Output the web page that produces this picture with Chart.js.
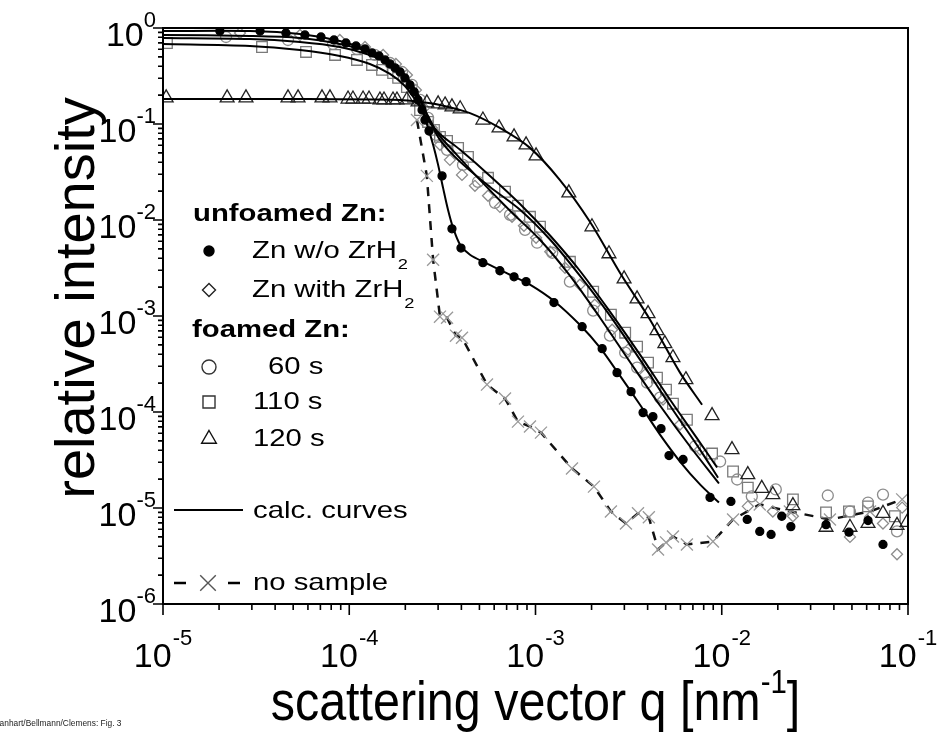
<!DOCTYPE html>
<html>
<head>
<meta charset="utf-8">
<title>relative intensity vs scattering vector q</title>
<script src="https://cdn.jsdelivr.net/npm/chart.js@4.4.1/dist/chart.umd.min.js"></script>
<style>
  html, body { margin: 0; padding: 0; background: #fff; }
  canvas { display: block; }
</style>
</head>
<body>
<canvas id="chart" width="941" height="733"></canvas>
<script>
// values: q in nm^-1, relative intensity

// unfoamed Zn w/o ZrH2 (filled circles)
const qWo = [2.02e-5, 3.32e-5, 4.57e-5, 5.78e-5, 7.05e-5, 8.28e-5, 9.6e-5, 1.087e-4, 1.215e-4, 1.325e-4,
  1.445e-4, 1.556e-4, 1.655e-4, 1.762e-4, 1.875e-4, 1.99e-4, 2.12e-4, 2.23e-4, 2.34e-4, 2.46e-4,
  2.55e-4, 2.68e-4, 3.15e-4, 3.56e-4, 3.98e-4, 5.22e-4, 6.44e-4, 7.67e-4, 8.9e-4, 1.256e-3,
  1.78e-3, 2.28e-3, 2.74e-3, 3.26e-3, 3.78e-3, 4.27e-3, 4.72e-3, 5.21e-3, 6.2e-3, 8.65e-3,
  1.12e-2, 1.37e-2, 1.6e-2, 1.84e-2, 2.1e-2, 2.35e-2, 3.63e-2, 4.82e-2, 6.1e-2, 7.34e-2];
const iWo = [0.93, 0.93, 0.887, 0.846, 0.806, 0.75, 0.698, 0.65, 0.604, 0.55,
  0.511, 0.465, 0.422, 0.384, 0.348, 0.302, 0.255, 0.216, 0.178, 0.14,
  0.11, 0.0848, 0.0288, 0.0081, 0.0051, 0.00359, 0.00296, 0.00256, 0.00228, 0.00138,
  7.74e-4, 4.57e-4, 2.57e-4, 1.63e-4, 9.86e-5, 8.95e-5, 6.71e-5, 3.52e-5, 3.2e-5, 1.29e-5,
  1.17e-5, 7.6e-6, 5.7e-6, 5.3e-6, 8.2e-6, 6.4e-6, 6.7e-6, 5.6e-6, 7.4e-6, 4.17e-6];

// unfoamed Zn with ZrH2 (open diamonds)
const qWith = [2.59e-5, 5.44e-5, 8.9e-5, 1.215e-4, 1.52e-4, 1.78e-4, 2.04e-4, 2.28e-4, 2.52e-4, 2.78e-4,
  3.07e-4, 3.47e-4, 4.03e-4, 4.73e-4, 5.56e-4, 6.44e-4, 7.48e-4, 8.67e-4, 1.007e-3, 1.2e-3,
  1.44e-3, 1.73e-3, 2.08e-3, 2.58e-3, 3.14e-3, 3.87e-3, 4.84e-3, 5.97e-3, 7.64e-3, 1.38e-2,
  1.88e-2, 2.41e-2, 4.88e-2, 7.34e-2, 8.73e-2, 9.3e-2];
const iWith = [0.887, 0.846, 0.75, 0.634, 0.524, 0.422, 0.324, 0.226, 0.147, 0.091,
  0.0607, 0.0423, 0.0295, 0.0227, 0.0179, 0.0137, 0.0108, 0.0087, 0.00653, 0.00467,
  0.00318, 0.00212, 0.00131, 7.2e-4, 4.46e-4, 2.45e-4, 1.35e-4, 7.4e-5, 4.06e-5, 1.04e-5,
  9.2e-6, 8.2e-6, 5.0e-6, 6.9e-6, 3.3e-6, 1.01e-5];

// foamed 60 s (open circles)
const q60 = [2.18e-5, 4.69e-5, 8.18e-5, 1.10e-4, 1.37e-4, 1.655e-4, 1.92e-4, 2.17e-4, 2.40e-4, 2.65e-4,
  2.92e-4, 3.35e-4, 4.08e-4, 4.91e-4, 6.06e-4, 7.30e-4, 8.79e-4, 1.02e-3, 1.23e-3, 1.53e-3,
  2.04e-3, 2.51e-3, 3.03e-3, 3.51e-3, 3.97e-3, 4.66e-3, 7.2e-3, 9.8e-3, 1.21e-2, 1.45e-2,
  1.95e-2, 3.71e-2, 4.88e-2, 6.1e-2, 7.34e-2, 8.73e-2];
const i60 = [0.806, 0.75, 0.682, 0.604, 0.524, 0.432, 0.348, 0.255, 0.178, 0.116,
  0.077, 0.0538, 0.0375, 0.025, 0.0151, 0.0113, 0.0079, 0.0058, 0.00456, 0.00228,
  0.00114, 6.24e-4, 4.15e-4, 2.9e-4, 2.02e-4, 1.41e-4, 4.4e-5, 3.05e-5, 1.98e-5, 1.32e-5,
  1.56e-5, 1.35e-5, 9.2e-6, 1.14e-5, 1.38e-5, 5.7e-6];

// foamed 110 s (open squares)
const q110 = [1.05e-5, 3.40e-5, 5.86e-5, 8.39e-5, 1.10e-4, 1.325e-4, 1.50e-4, 1.72e-4, 1.83e-4, 2.04e-4,
  2.20e-4, 2.40e-4, 2.65e-4, 2.85e-4, 3.07e-4, 3.35e-4, 3.84e-4, 4.34e-4, 5.56e-4, 6.86e-4,
  8.05e-4, 9.34e-4, 1.057e-3, 1.53e-3, 2.04e-3, 2.54e-3, 3.03e-3, 3.51e-3, 4.02e-3, 4.49e-3,
  5.02e-3, 5.47e-3, 6.5e-3, 8.87e-3, 1.15e-2, 1.38e-2, 2.41e-2, 3.63e-2, 4.82e-2, 6.1e-2, 8.5e-2];
const i110 = [0.698, 0.634, 0.563, 0.524, 0.465, 0.412, 0.366, 0.34, 0.302, 0.243,
  0.191, 0.14, 0.105, 0.0869, 0.0734, 0.0667, 0.0564, 0.0455, 0.0275, 0.0197,
  0.0141, 0.0108, 0.0085, 0.00367, 0.00179, 0.00103, 6.7e-4, 4.8e-4, 3.27e-4, 2.28e-4,
  1.71e-4, 1.22e-4, 8.3e-5, 3.69e-5, 2.4e-5, 1.63e-5, 1.23e-5, 9.0e-6, 9.2e-6, 1.04e-5, 8.2e-6];

// foamed 120 s (open triangles)
const q120 = [1.04e-5, 2.21e-5, 2.79e-5, 4.69e-5, 5.31e-5, 7.14e-5, 7.88e-5, 9.85e-5, 1.047e-4, 1.186e-4,
  1.277e-4, 1.462e-4, 1.537e-4, 1.718e-4, 1.804e-4, 2.04e-4, 2.34e-4, 2.61e-4, 3.0e-4, 3.27e-4,
  3.56e-4, 3.94e-4, 5.22e-4, 6.37e-4, 7.67e-4, 8.9e-4, 1.007e-3, 1.51e-3, 2.01e-3, 2.48e-3,
  2.99e-3, 3.51e-3, 4.02e-3, 4.49e-3, 4.95e-3, 5.47e-3, 6.42e-3, 8.87e-3, 1.135e-2, 1.38e-2,
  1.64e-2, 1.88e-2, 2.41e-2, 3.63e-2, 4.88e-2, 6.1e-2, 7.34e-2, 8.73e-2, 9.89e-2];
const i120 = [0.187, 0.187, 0.187, 0.187, 0.187, 0.187, 0.187, 0.182, 0.182, 0.182,
  0.182, 0.178, 0.178, 0.178, 0.178, 0.178, 0.17, 0.166, 0.162, 0.158,
  0.151, 0.144, 0.11, 0.091, 0.0734, 0.0607, 0.0466, 0.0192, 0.0085, 0.00445,
  0.00244, 0.00151, 0.00106, 7.03e-4, 5.15e-4, 3.68e-4, 2.17e-4, 9.18e-5, 4.06e-5, 2.23e-5,
  1.6e-5, 1.38e-5, 1.06e-5, 6.3e-6, 6.3e-6, 6.9e-6, 8.8e-6, 6.6e-6, 7.1e-6];

// no sample (crosses, dashed)
const qNo = [2.31e-4, 2.61e-4, 2.82e-4, 3.07e-4, 3.35e-4, 3.74e-4, 4.03e-4, 5.49e-4, 6.86e-4, 8.05e-4,
  9.34e-4, 1.07e-3, 1.57e-3, 2.06e-3, 2.54e-3, 3.06e-3, 3.55e-3, 4.06e-3, 4.55e-3, 5.02e-3,
  5.47e-3, 6.5e-3, 8.97e-3, 1.15e-2, 1.6e-2, 2.32e-2, 3.81e-2, 6.25e-2, 9.3e-2];
const iNo = [0.110, 0.0288, 0.00385, 9.84e-4, 9.6e-4, 6.24e-4, 5.94e-4, 1.93e-4, 1.38e-4, 7.94e-5,
  7.05e-5, 6.1e-5, 2.58e-5, 1.67e-5, 9.2e-6, 6.9e-6, 8.8e-6, 8.0e-6, 3.7e-6, 4.38e-6,
  5.05e-6, 4.17e-6, 4.48e-6, 7.6e-6, 1.09e-5, 9.2e-6, 7.6e-6, 9.2e-6, 1.23e-5];

// calc. curves
const qCalcWo = [1e-5, 2.93e-5, 5.44e-5, 8.9e-5, 1.29e-4, 1.655e-4, 1.99e-4, 2.25e-4, 2.46e-4, 2.65e-4,
  2.82e-4, 3.0e-4, 3.19e-4, 3.39e-4, 3.61e-4, 3.94e-4, 4.45e-4, 5.36e-4, 7.3e-4, 9.34e-4,
  1.27e-3, 1.73e-3, 2.22e-3, 2.84e-3, 3.64e-3, 4.66e-3, 5.97e-3, 7.64e-3, 9.66e-3];
const iCalcWo = [0.93, 0.93, 0.866, 0.732, 0.576, 0.432, 0.302, 0.201, 0.14, 0.091,
  0.0607, 0.0375, 0.0216, 0.0128, 0.0083, 0.00552, 0.00434, 0.00359, 0.00269, 0.00212,
  0.00141, 8.1e-4, 4.68e-4, 2.39e-4, 1.19e-4, 5.82e-5, 3.05e-5, 1.76e-5, 1.14e-5];
const qCalcWith = [1e-5, 2.93e-5, 5.44e-5, 8.9e-5, 1.29e-4, 1.655e-4, 1.99e-4, 2.34e-4, 2.65e-4, 3.07e-4,
  3.94e-4, 5.7e-4, 8.26e-4, 1.2e-3, 1.73e-3, 2.51e-3, 3.64e-3, 5.27e-3, 7.64e-3, 9.55e-3];
const iCalcWith = [0.846, 0.826, 0.787, 0.682, 0.563, 0.443, 0.324, 0.201, 0.116, 0.0684,
  0.0403, 0.0221, 0.0128, 0.00622, 0.00263, 0.00101, 3.51e-4, 1.17e-4, 4.06e-5, 2.07e-5];
const qCalc60 = [1e-5, 2.93e-5, 5.44e-5, 8.9e-5, 1.29e-4, 1.655e-4, 1.99e-4, 2.34e-4, 2.65e-4, 3.0e-4,
  3.7e-4, 5.03e-4, 7.3e-4, 1.057e-3, 1.53e-3, 2.22e-3, 3.21e-3, 4.66e-3, 6.76e-3, 9.66e-3];
const iCalc60 = [0.787, 0.769, 0.715, 0.634, 0.524, 0.422, 0.317, 0.196, 0.121, 0.0788,
  0.05, 0.0262, 0.0125, 0.00622, 0.00263, 9.6e-4, 3.34e-4, 1.17e-4, 4.37e-5, 1.8e-5];
const qCalc110 = [1e-5, 2.93e-5, 5.44e-5, 8.9e-5, 1.29e-4, 1.655e-4, 1.99e-4, 2.34e-4, 2.65e-4, 3.07e-4,
  3.94e-4, 5.7e-4, 8.26e-4, 1.2e-3, 1.73e-3, 2.51e-3, 3.64e-3, 5.27e-3, 7.64e-3, 9.44e-3];
const iCalc110 = [0.682, 0.65, 0.59, 0.511, 0.422, 0.332, 0.249, 0.162, 0.11, 0.0788,
  0.0538, 0.0288, 0.0147, 0.00685, 0.00296, 0.00111, 3.96e-4, 1.35e-4, 4.81e-5, 2.64e-5];
const qCalc120 = [1e-5, 5.44e-5, 1.875e-4, 2.40e-4, 3.07e-4, 4.45e-4, 6.44e-4, 9.34e-4, 1.35e-3, 1.96e-3,
  2.84e-3, 4.12e-3, 5.97e-3, 7.84e-3];
const iCalc120 = [0.182, 0.182, 0.178, 0.17, 0.158, 0.13, 0.091, 0.0564, 0.0262, 0.00958,
  0.00282, 9.16e-4, 2.57e-4, 1.19e-4];

// axis decades and minor tick multipliers
const decadesX = [-5, -4, -3, -2, -1];
const decadesY = [0, -1, -2, -3, -4, -5, -6];
const minorSteps = [2, 3, 4, 5, 6, 7, 8, 9];

const FONT = '"Liberation Sans", Arial, Helvetica, sans-serif';
const GREY = '#8c8c8c';

function pts(qs, is) {
  return qs.map((q, k) => ({ x: q, y: is[k] }));
}

function markers(label, qs, is, style, r, color, fill, order) {
  return {
    label: label,
    data: pts(qs, is),
    showLine: false,
    pointStyle: style,
    pointRadius: r,
    pointBorderWidth: 1.3,
    pointBorderColor: color,
    pointBackgroundColor: fill,
    order: order
  };
}

function curve(label, qs, is) {
  return {
    label: label,
    data: pts(qs, is),
    showLine: true,
    borderColor: '#000',
    borderWidth: 2,
    pointRadius: 0,
    tension: 0.3,
    order: 0
  };
}

// stretched text helper (the figure's lettering is wider/narrower than the stock font)
function sText(ctx, txt, x, y, font, sx, align) {
  ctx.save();
  ctx.font = font;
  ctx.textBaseline = 'alphabetic';
  ctx.textAlign = 'left';
  const w = ctx.measureText(txt).width * sx;
  let x0 = x;
  if (align === 'right') x0 = x - w;
  if (align === 'center') x0 = x - w / 2;
  ctx.translate(x0, y);
  ctx.scale(sx, 1);
  ctx.fillText(txt, 0, 0);
  ctx.restore();
  return w;
}

const decor = {
  id: 'decor',
  afterDraw(chart) {
    const ctx = chart.ctx;
    const xs = chart.scales.x, ys = chart.scales.y;
    const a = chart.chartArea;
    ctx.save();
    ctx.fillStyle = '#000';
    ctx.strokeStyle = '#000';

    // frame
    ctx.lineWidth = 2;
    ctx.strokeRect(a.left, a.top, a.right - a.left, a.bottom - a.top);

    // ticks (outward on bottom and left only)
    ctx.lineWidth = 1.6;
    ctx.beginPath();
    decadesX.forEach(d => {
      const base = Math.pow(10, d);
      const px = xs.getPixelForValue(base);
      ctx.moveTo(px, a.bottom); ctx.lineTo(px, a.bottom + 11);
      if (d < decadesX[decadesX.length - 1]) {
        minorSteps.forEach(m => {
          const mx = xs.getPixelForValue(m * base);
          ctx.moveTo(mx, a.bottom); ctx.lineTo(mx, a.bottom + 6);
        });
      }
    });
    decadesY.forEach(d => {
      const base = Math.pow(10, d);
      const py = ys.getPixelForValue(base);
      ctx.moveTo(a.left, py); ctx.lineTo(a.left - 10, py);
      if (d < 0) {
        minorSteps.forEach(m => {
          const my = ys.getPixelForValue(m * base);
          ctx.moveTo(a.left, my); ctx.lineTo(a.left - 5, my);
        });
      }
    });
    ctx.stroke();

    // tick labels 10^n
    const bigF = '34px ' + FONT, supF = '22px ' + FONT;
    decadesX.forEach(d => {
      const px = xs.getPixelForValue(Math.pow(10, d));
      ctx.font = bigF;
      const w1 = ctx.measureText('10').width;
      ctx.font = supF;
      const w2 = ctx.measureText(String(d)).width;
      const x0 = px - (w1 + w2 + 1) / 2;
      sText(ctx, '10', x0, a.bottom + 63, bigF, 1, 'left');
      sText(ctx, String(d), x0 + w1 + 1, a.bottom + 41, supF, 1, 'left');
    });
    decadesY.forEach(d => {
      const py = ys.getPixelForValue(Math.pow(10, d));
      const w2 = sText(ctx, String(d), a.left - 7, py - 1, supF, 1, 'right');
      sText(ctx, '10', a.left - 7 - w2, py + 18, bigF, 1, 'right');
    });

    // axis titles
    ctx.save();
    ctx.translate(94, 298);
    ctx.rotate(-Math.PI / 2);
    sText(ctx, 'relative intensity', 0, 0, '56px ' + FONT, 1, 'center');
    ctx.restore();

    const tF = '56px ' + FONT, tS = '34px ' + FONT, sx = 0.865;
    ctx.font = tF;
    const m1 = ctx.measureText('scattering vector q [nm').width * sx;
    const m3 = ctx.measureText(']').width * sx;
    ctx.font = tS;
    const m2 = ctx.measureText('-1').width * sx;
    let tx = (a.left + a.right) / 2 - (m1 + m2 + m3) / 2;
    sText(ctx, 'scattering vector q [nm', tx, 720, tF, sx, 'left');
    sText(ctx, '-1', tx + m1, 693, tS, sx, 'left');
    sText(ctx, ']', tx + m1 + m2, 720, tF, sx, 'left');

    // legend
    const hF = 'bold 24px ' + FONT, iF = '24px ' + FONT, subF = '15px ' + FONT, lx = 1.22;
    const mk = (style, r, x, y, stroke, fill) => {
      ctx.save();
      ctx.strokeStyle = stroke;
      ctx.fillStyle = fill;
      ctx.lineWidth = 1.4;
      Chart.helpers.drawPoint(ctx, { pointStyle: style, radius: r, rotation: 0, borderWidth: 1.4 }, x, y);
      ctx.restore();
    };
    sText(ctx, 'unfoamed Zn:', 193, 221, hF, lx, 'left');
    mk('circle', 5, 209, 251, '#000', '#000');
    let w = sText(ctx, 'Zn w/o ZrH', 252, 258, iF, lx, 'left');
    sText(ctx, '2', 252 + w + 1, 269, subF, lx, 'left');
    mk('rectRot', 6.5, 209, 290, '#222', '#fff');
    w = sText(ctx, 'Zn with ZrH', 252, 297, iF, lx, 'left');
    sText(ctx, '2', 252 + w + 1, 308, subF, lx, 'left');
    sText(ctx, 'foamed Zn:', 192, 337, hF, lx, 'left');
    mk('circle', 7, 209, 367, '#333', '#fff');
    sText(ctx, '60 s', 268, 374, iF, lx, 'left');
    mk('rect', 8.5, 209, 402, '#333', '#fff');
    sText(ctx, '110 s', 253, 409, iF, lx, 'left');
    mk('triangle', 8.5, 209, 439, '#111', '#fff');
    sText(ctx, '120 s', 253, 446, iF, lx, 'left');
    ctx.lineWidth = 2;
    ctx.beginPath();
    ctx.moveTo(174, 510); ctx.lineTo(243, 510);
    ctx.stroke();
    sText(ctx, 'calc. curves', 253, 518, iF, lx, 'left');
    ctx.lineWidth = 2.5;
    ctx.beginPath();
    ctx.moveTo(174, 583); ctx.lineTo(186, 583);
    ctx.moveTo(228, 583); ctx.lineTo(240, 583);
    ctx.stroke();
    mk('crossRot', 11, 208, 583, '#555', '#555');
    sText(ctx, 'no sample', 253, 590, iF, lx, 'left');

    // footnote
    ctx.fillStyle = '#222';
    sText(ctx, 'Banhart/Bellmann/Clemens: Fig. 3', -6, 726, '9px ' + FONT, 0.93, 'left');
    ctx.restore();
  }
};

new Chart(document.getElementById('chart'), {
  type: 'scatter',
  data: {
    datasets: [
      curve('calc. Zn w/o ZrH2', qCalcWo, iCalcWo),
      curve('calc. Zn with ZrH2', qCalcWith, iCalcWith),
      curve('calc. 60 s', qCalc60, iCalc60),
      curve('calc. 110 s', qCalc110, iCalc110),
      curve('calc. 120 s', qCalc120, iCalc120),
      markers('Zn w/o ZrH2', qWo, iWo, 'circle', 4, '#000', '#000', 1),
      markers('Zn with ZrH2', qWith, iWith, 'rectRot', 5.5, GREY, 'rgba(0,0,0,0)', 3),
      markers('60 s', q60, i60, 'circle', 5.5, GREY, 'rgba(0,0,0,0)', 3),
      markers('110 s', q110, i110, 'rect', 7.5, '#7a7a7a', 'rgba(0,0,0,0)', 3),
      markers('120 s', q120, i120, 'triangle', 8, '#222', 'rgba(0,0,0,0)', 2),
      {
        label: 'no sample',
        data: pts(qNo, iNo),
        showLine: true,
        borderColor: '#111',
        borderWidth: 2.5,
        borderDash: [9, 8],
        pointStyle: 'crossRot',
        pointRadius: 8.5,
        pointBorderWidth: 1.3,
        pointBorderColor: '#9a9a9a',
        pointBackgroundColor: '#9a9a9a',
        order: 4
      }
    ]
  },
  options: {
    responsive: false,
    animation: false,
    devicePixelRatio: 1,
    layout: { padding: { top: 28, right: 33, left: 0, bottom: 0 } },
    plugins: {
      legend: { display: false },
      tooltip: { enabled: false }
    },
    scales: {
      x: {
        type: 'logarithmic',
        min: 1e-5,
        max: 1e-1,
        grid: { display: false },
        border: { display: false },
        ticks: { display: false },
        afterFit: s => { s.height = 129; }
      },
      y: {
        type: 'logarithmic',
        min: 1e-6,
        max: 1,
        grid: { display: false },
        border: { display: false },
        ticks: { display: false },
        afterFit: s => { s.width = 163; }
      }
    }
  },
  plugins: [decor]
});
</script>
</body>
</html>
